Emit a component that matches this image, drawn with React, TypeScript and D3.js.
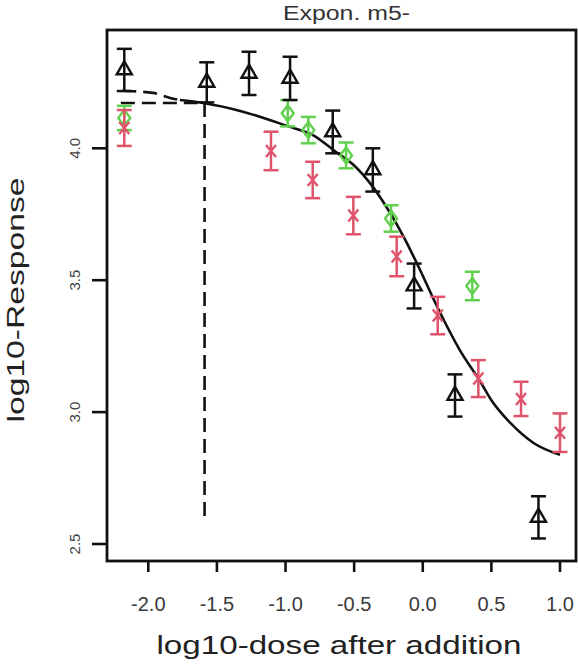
import React from "react";
import * as d3 from "d3";

const TITLE = "Expon. m5-";
const X_LABEL = "log10-dose after addition";
const Y_LABEL = "log10-Response";
const X_TICKS = [-2.0, -1.5, -1.0, -0.5, 0.0, 0.5, 1.0];
const Y_TICKS = [2.5, 3.0, 3.5, 4.0];

// black triangles
const blackX = [-2.175, -1.574, -1.266, -0.967, -0.656, -0.364, -0.063, 0.235, 0.843];
const blackY = [4.297, 4.25, 4.284, 4.265, 4.062, 3.918, 3.478, 3.063, 2.601];
const blackErr = [0.08, 0.076, 0.082, 0.082, 0.081, 0.082, 0.085, 0.08, 0.08];

// green diamonds
const greenX = [-2.175, -0.984, -0.834, -0.559, -0.231, 0.361];
const greenY = [4.115, 4.133, 4.069, 3.973, 3.734, 3.478];
const greenErr = [0.046, 0.05, 0.05, 0.049, 0.05, 0.054];

// red crosses
const redX = [-2.175, -1.106, -0.802, -0.506, -0.19, 0.109, 0.405, 0.716, 1.0];
const redY = [4.077, 3.99, 3.88, 3.745, 3.59, 3.366, 3.127, 3.05, 2.922];
const redErr = [0.068, 0.073, 0.069, 0.071, 0.075, 0.071, 0.07, 0.065, 0.073];

// fitted curve (solid)
const fitX = [-1.77, -1.6, -1.31, -0.99, -0.8, -0.63, -0.5, -0.38, -0.25, -0.14, -0.03, 0.1, 0.27, 0.42, 0.5, 0.64, 0.81, 1.0];
const fitY = [4.183, 4.172, 4.139, 4.085, 4.05, 3.985, 3.935, 3.865, 3.765, 3.665, 3.55, 3.405, 3.235, 3.115, 3.045, 2.958, 2.882, 2.838];

// extrapolated curve (dashed)
const extX = [-2.19, -1.966, -1.827, -1.77];
const extY = [4.218, 4.21, 4.189, 4.183];

// reference dashed lines
const refDose = -1.59;
const refResp = 4.172;
const refLeft = -2.2;
const refBottom = 2.602;

const RED = "#DF536B";
const GREEN = "#61D04F";
const BLACK = "#111";

const W = 578;
const H = 664;
const BOX = { left: 107, right: 576, top: 30, bottom: 561 };

export default function App() {
  const x = d3.scaleLinear().domain([-2, 1]).range([148.3, 560]);
  const y = d3.scaleLinear().domain([2.5, 4.0]).range([544, 148.3]);
  const line = d3
    .line<[number, number]>()
    .x((d) => x(d[0]))
    .y((d) => y(d[1]))
    .curve(d3.curveMonotoneX);

  const fitPts = fitX.map((v, i) => [v, fitY[i]] as [number, number]);
  const extPts = extX.map((v, i) => [v, extY[i]] as [number, number]);

  const font = "'Liberation Sans', Arial, Helvetica, sans-serif";
  const sw = 2.5;
  const cap = 7.5;

  const errBar = (px: number, py: number, e: number, color: string, key: string) => (
    <g key={key} stroke={color} strokeWidth={sw} fill="none">
      <line x1={x(px)} x2={x(px)} y1={y(py - e)} y2={y(py + e)} />
      <line x1={x(px) - cap} x2={x(px) + cap} y1={y(py + e)} y2={y(py + e)} />
      <line x1={x(px) - cap} x2={x(px) + cap} y1={y(py - e)} y2={y(py - e)} />
    </g>
  );

  const s = 5.6;
  const triangle = (cx: number, cy: number) =>
    `M${cx},${cy - 1.555 * s}L${cx + 1.347 * s},${cy + 0.778 * s}L${cx - 1.347 * s},${cy + 0.778 * s}Z`;
  const diamond = (cx: number, cy: number) =>
    `M${cx},${cy - 8}L${cx + 6},${cy}L${cx},${cy + 8}L${cx - 6},${cy}Z`;
  const cross = (cx: number, cy: number) =>
    `M${cx - 5},${cy - 6}L${cx + 5},${cy + 6}M${cx - 5},${cy + 6}L${cx + 5},${cy - 6}`;

  return (
    <svg
      width={W}
      height={H}
      style={{ position: "absolute", left: 0, top: 0, background: "#fff" }}
      fontFamily={font}
    >
      <rect x={0} y={0} width={W} height={H} fill="#fff" />
      {/* title */}
      <text x={346.5} y={20} fontSize={20} textAnchor="middle" fill="#333" textLength={127} lengthAdjust="spacingAndGlyphs">
        {TITLE}
      </text>

      {/* reference dashed lines */}
      <g stroke={BLACK} strokeWidth={2.6} strokeDasharray="14 7" fill="none">
        <line x1={x(refDose)} x2={x(refDose)} y1={y(refResp)} y2={y(refBottom)} />
        <line x1={x(refLeft)} x2={x(refDose)} y1={y(refResp)} y2={y(refResp)} />
        <path d={line(extPts) || ""} />
      </g>

      {/* fitted curve */}
      <path d={line(fitPts) || ""} stroke={BLACK} strokeWidth={2.6} fill="none" />

      {/* green */}
      {greenX.map((v, i) => errBar(v, greenY[i], greenErr[i], GREEN, "ge" + i))}
      {greenX.map((v, i) => (
        <path key={"gm" + i} d={diamond(x(v), y(greenY[i]))} stroke={GREEN} strokeWidth={2.4} fill="none" />
      ))}

      {/* red */}
      {redX.map((v, i) => errBar(v, redY[i], redErr[i], RED, "re" + i))}
      {redX.map((v, i) => (
        <path key={"rm" + i} d={cross(x(v), y(redY[i]))} stroke={RED} strokeWidth={2.4} fill="none" />
      ))}

      {/* black */}
      {blackX.map((v, i) => errBar(v, blackY[i], blackErr[i], BLACK, "be" + i))}
      {blackX.map((v, i) => (
        <path key={"bm" + i} d={triangle(x(v), y(blackY[i]))} stroke={BLACK} strokeWidth={2.4} fill="none" />
      ))}

      {/* box */}
      <rect
        x={BOX.left}
        y={BOX.top}
        width={BOX.right - BOX.left}
        height={BOX.bottom - BOX.top}
        fill="none"
        stroke={BLACK}
        strokeWidth={2.8}
      />

      {/* x axis ticks */}
      {X_TICKS.map((t) => (
        <g key={"xt" + t}>
          <line x1={x(t)} x2={x(t)} y1={BOX.bottom} y2={BOX.bottom + 11} stroke={BLACK} strokeWidth={2.6} />
          <text x={x(t)} y={611} fontSize={20} textAnchor="middle" fill="#3a3a3a">
            {t.toFixed(1)}
          </text>
        </g>
      ))}

      {/* y axis ticks */}
      {Y_TICKS.map((t) => (
        <g key={"yt" + t}>
          <line x1={BOX.left - 15} x2={BOX.left} y1={y(t)} y2={y(t)} stroke={BLACK} strokeWidth={2.6} />
          <text
            transform={`translate(80,${y(t)}) rotate(-90)`}
            fontSize={15}
            textAnchor="middle"
            fill="#444"
          >
            {t.toFixed(1)}
          </text>
        </g>
      ))}

      {/* axis labels */}
      <text x={339} y={654} fontSize={26} textAnchor="middle" fill="#222" textLength={365} lengthAdjust="spacingAndGlyphs">
        {X_LABEL}
      </text>
      <text
        transform={`translate(24,300) rotate(-90)`}
        fontSize={24}
        textAnchor="middle"
        fill="#222"
        textLength={245}
        lengthAdjust="spacingAndGlyphs"
      >
        {Y_LABEL}
      </text>
    </svg>
  );
}
